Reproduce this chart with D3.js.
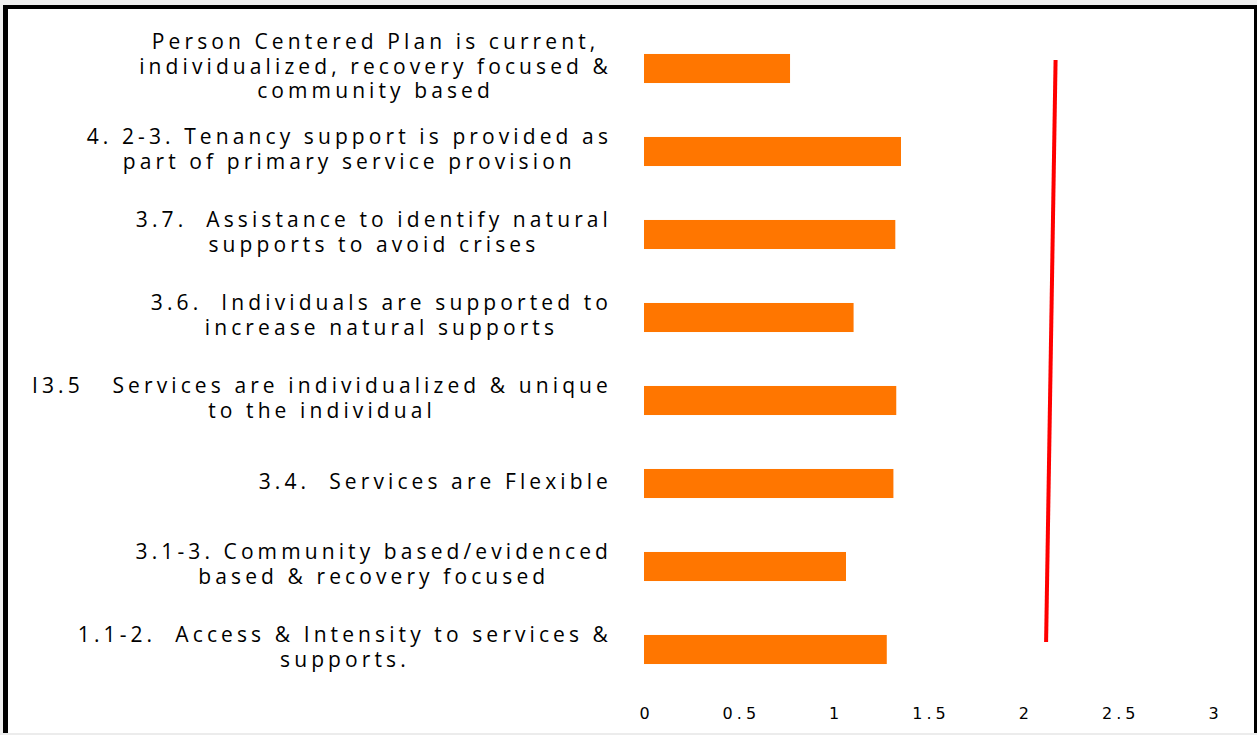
<!DOCTYPE html>
<html>
<head>
<meta charset="utf-8">
<script src="https://cdn.jsdelivr.net/npm/d3@7"></script>
<style>
  html, body { margin: 0; padding: 0; background: #f0f0f0; }
  svg { display: block; }
  .cat { font-family: "Open Sans", sans-serif; font-size: 21px; letter-spacing: 4.1px; fill: #000; white-space: pre; }
  .tick text { font-family: "DejaVu Sans", Verdana, sans-serif; font-size: 16px; letter-spacing: 4px; fill: #000; }
</style>
</head>
<body>
<svg id="chart" width="1257" height="735"></svg>
<script>
// ---- data (top to bottom) ----
const categories = [
  "Person Centered Plan is current,\nindividualized, recovery focused &\ncommunity based",
  "4. 2-3. Tenancy support is provided as\npart of primary service provision",
  "3.7.  Assistance to identify natural\nsupports to avoid crises",
  "3.6.  Individuals are supported to\nincrease natural supports",
  "I3.5   Services are individualized & unique\nto the individual",
  "3.4.  Services are Flexible",
  "3.1-3. Community based/evidenced\nbased & recovery focused",
  "1.1-2.  Access & Intensity to services &\nsupports."
];
const scores = [0.77, 1.355, 1.325, 1.105, 1.33, 1.315, 1.065, 1.28];
const targetX = [2.17, 2.12];   // red reference line: top end, bottom end
const targetY = [1, 0];         // positions on secondary 0..1 axis
const xTicks = [0, 0.5, 1, 1.5, 2, 2.5, 3];
const xTickLabels = ["0", "0.5", "1", "1.5", "2", "2.5", "3"];

// ---- layout ----
const W = 1257, H = 735;
const svg = d3.select("#chart");

// frame
svg.append("rect").attr("x", 3).attr("y", 5).attr("width", W - 3).attr("height", 728).attr("fill", "#fff");
svg.append("rect").attr("x", 0).attr("y", 733).attr("width", W).attr("height", 2).attr("fill", "#ececec");
svg.append("rect").attr("x", 3).attr("y", 5).attr("width", 5).attr("height", 728).attr("fill", "#000");
svg.append("rect").attr("x", 3).attr("y", 5).attr("width", W - 3).attr("height", 4).attr("fill", "#000");
svg.append("rect").attr("x", 1254).attr("y", 5).attr("width", 3).attr("height", 728).attr("fill", "#000");

const x = d3.scaleLinear().domain([0, 3]).range([644, 1213]);
const y = d3.scaleBand().domain(d3.range(categories.length)).range([27, 691]).paddingInner(0.65).paddingOuter(0.325);
const y2 = d3.scaleLinear().domain([0, 1]).range([642, 60]);

// bars
svg.append("g").selectAll("rect").data(scores).join("rect")
  .attr("x", x(0))
  .attr("y", (d, i) => y(i))
  .attr("width", d => x(d) - x(0))
  .attr("height", y.bandwidth())
  .attr("fill", "#ff7600");

// red line
const pts = targetX.map((v, i) => [x(v), y2(targetY[i])]);
svg.append("path")
  .attr("d", d3.line()(pts))
  .attr("stroke", "#ff0000")
  .attr("stroke-width", 4)
  .attr("fill", "none");

// x axis (labels only)
const xAxis = d3.axisBottom(x).tickValues(xTicks).tickFormat((d, i) => xTickLabels[i]).tickSize(0).tickPadding(0);
const gx = svg.append("g").attr("transform", "translate(0,705)").call(xAxis);
gx.select(".domain").remove();
gx.selectAll("text").attr("dy", "0.9em").attr("dx", "2px");

// category labels
const rightEdge = 612, lineH = 24.5;
const gl = svg.append("g");
categories.forEach((c, i) => {
  const lines = c.split("\n");
  const cy = y(i) + y.bandwidth() / 2 - 2;
  const t = gl.append("text").attr("class", "cat").attr("text-anchor", "middle");
  const spans = lines.map((ln, j) => t.append("tspan")
      .attr("y", cy + (j - (lines.length - 1) / 2) * lineH + 7)
      .text(ln));
  const maxW = d3.max(spans, s => s.node().getComputedTextLength());
  spans.forEach(s => s.attr("x", rightEdge - maxW / 2));
});
</script>
</body>
</html>
